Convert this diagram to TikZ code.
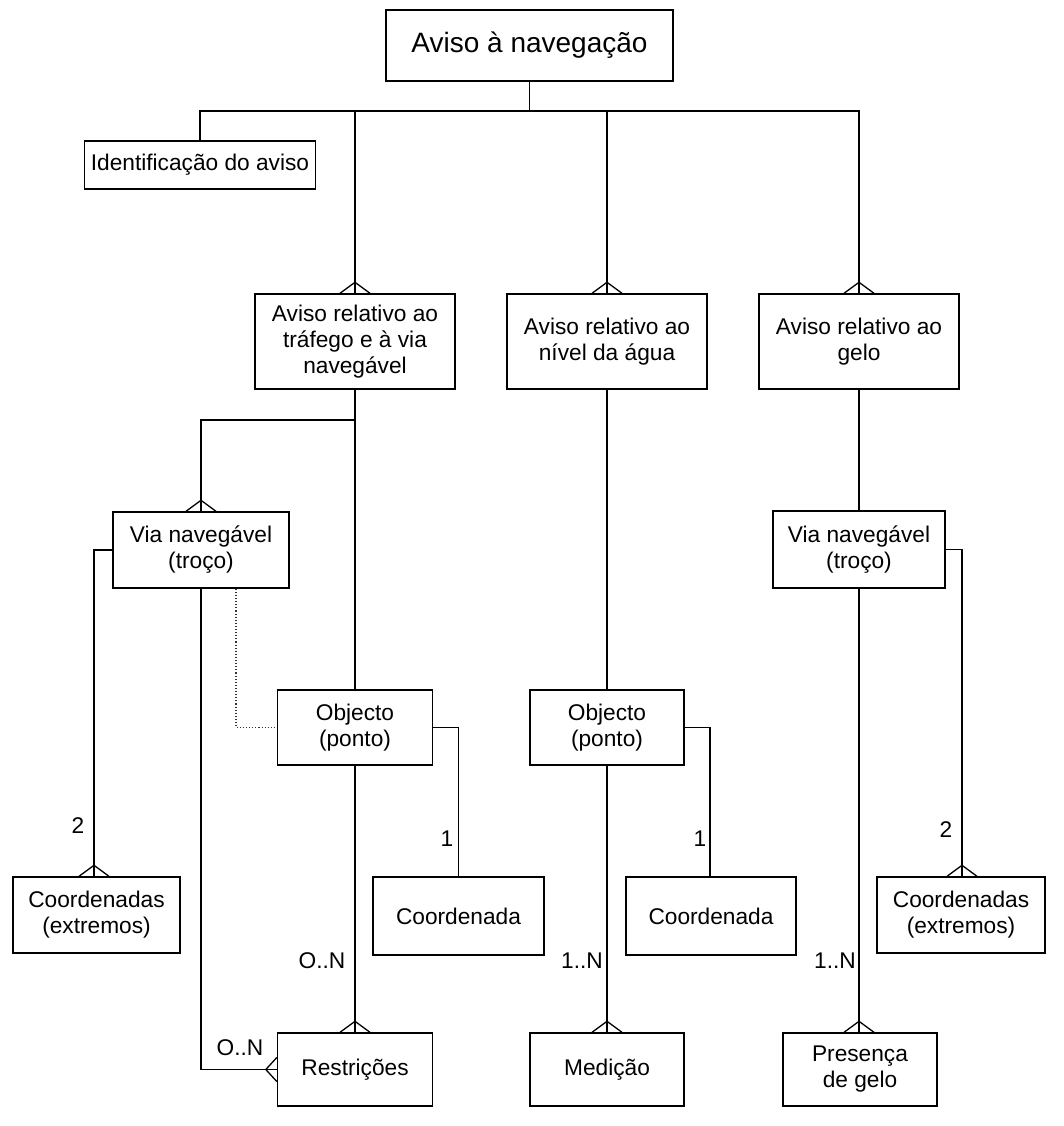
\documentclass[tikz,border=0pt]{standalone}
\usepackage{fontspec}
\setmainfont{Liberation Sans}
\usepackage{tikz}
\usetikzlibrary{positioning}
\tikzstyle{entity} = [rectangle, draw=black, line width=1.4pt, align=center, inner sep=0pt, font=\fontsize{22.7}{26}\selectfont]
\tikzstyle{link} = [draw=black, line width=1.3pt]
\tikzstyle{card} = [font=\fontsize{22.7}{26}\selectfont, inner sep=0pt]
% crow's foot on the top side / left side of a box
\newcommand{\crowtop}[1]{\draw [link] (#1) ++(-15,0) -- ++(15,-11) -- ++(15,11);}
\newcommand{\crowleft}[1]{\draw [link] (#1) ++(0,-12) -- ++(-11,12) -- ++(11,12);}

\begin{document}
\begin{tikzpicture}[x=1pt, y=-1pt]
\useasboundingbox (0,0) rectangle (1063,1126);

\node [entity, minimum width=287, minimum height=71, font=\fontsize{28}{32}\selectfont] (aviso) at (529.5,45.5) {Aviso à navegação};
\node [entity, minimum width=231, minimum height=48] (ident) at (200,165) {Identificação do aviso};
\node [entity, minimum width=200, minimum height=95] (trafego) at (355,341.5) {Aviso relativo ao\\tráfego e à via\\navegável};
\node [entity, minimum width=200, minimum height=95] (nivel) at (607,341.5) {Aviso relativo ao\\nível da água};
\node [entity, minimum width=200, minimum height=95] (gelo) at (859,341.5) {Aviso relativo ao\\gelo};

\node [entity, minimum width=176, minimum height=76] (viaA) at (201,550) {Via navegável\\(troço)};
\node [entity, minimum width=172, minimum height=77] (viaB) at (859,549.5) {Via navegável\\(troço)};
\node [entity, minimum width=155, minimum height=75] (objA) at (355,727.5) {Objecto\\(ponto)};
\node [entity, minimum width=154, minimum height=75] (objB) at (607,727.5) {Objecto\\(ponto)};

\node [entity, minimum width=167, minimum height=76] (extA) at (96.5,915) {Coordenadas\\(extremos)};
\node [entity, minimum width=171, minimum height=78] (coordA) at (458.5,916) {Coordenada};
\node [entity, minimum width=170, minimum height=78] (coordB) at (711,916) {Coordenada};
\node [entity, minimum width=168, minimum height=76] (extB) at (961,915) {Coordenadas\\(extremos)};

\node [entity, minimum width=155, minimum height=73] (restr) at (355,1069.5) {Restrições};
\node [entity, minimum width=154, minimum height=73] (medicao) at (607,1069.5) {Medição};
\node [entity, minimum width=154, minimum height=73] (presenca) at (860,1069.5) {Presença\\de gelo};

\coordinate (bus) at (859,111);
\coordinate (forkA) at (355,420);

% top level
\draw [link] (aviso.south) -- (aviso.south |- bus);
\draw [link] (ident.north) |- (bus) -- (gelo.north);
\draw [link] (trafego.north) -- (trafego.north |- bus);
\draw [link] (nivel.north) -- (nivel.north |- bus);
\crowtop{trafego.north}
\crowtop{nivel.north}
\crowtop{gelo.north}

% traffic branch
\draw [link] (trafego.south) -- (objA.north);
\draw [link] (viaA.north) |- (forkA);
\crowtop{viaA.north}
\draw [link] (viaA.west) -| ([xshift=-2.5]extA.north);
\crowtop{[xshift=-2.5]extA.north}
\draw [link] (viaA.south) |- (restr.west);
\crowleft{restr.west}
\draw [line width=1.1pt, dotted, black!80] ([xshift=35]viaA.south) |- (objA.west);
\draw [link] (objA.east) -| (coordA.north);
\draw [link] (objA.south) -- (restr.north);
\crowtop{restr.north}

% water level branch
\draw [link] (nivel.south) -- (objB.north);
\draw [link] (objB.east) -| ([xshift=-1]coordB.north);
\draw [link] (objB.south) -- (medicao.north);
\crowtop{medicao.north}

% ice branch
\draw [link] (gelo.south) -- (viaB.north);
\draw [link] (viaB.east) -| ([xshift=1]extB.north);
\crowtop{[xshift=1]extB.north}
\draw [link] (viaB.south) -- ([xshift=-1]presenca.north);
\crowtop{[xshift=-1]presenca.north}

% cardinalities
\node [card] (cA1) at (78,826) {2};
\node [card] (cA2) at (240,1048) {O..N};
\node [card] (cA3) at (447,839) {1};
\node [card] (cA4) at (322,961) {O..N};
\node [card] (cB1) at (700,839) {1};
\node [card] (cB2) at (582,961) {1..N};
\node [card] (cC1) at (946,830) {2};
\node [card] (cC2) at (835,961) {1..N};
\end{tikzpicture}
\end{document}
